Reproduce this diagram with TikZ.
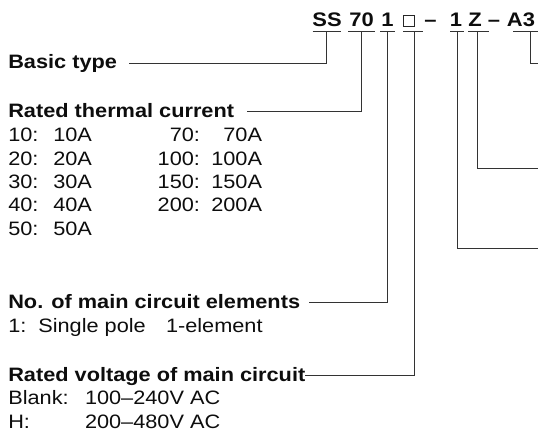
\documentclass[tikz,border=0pt]{standalone}
\usepackage{fontspec}
\setmainfont{Liberation Sans}[FakeStretch=1.12]
\begin{document}
\begin{tikzpicture}[x=1pt,y=-1pt,
  every node/.style={inner sep=0pt,outer sep=0pt,text=black!95},
  txt/.style={anchor=base west,font=\fontsize{19.4}{23}\selectfont},
  txtr/.style={anchor=base east,font=\fontsize{19.4}{23}\selectfont},
  hd/.style={anchor=base west,font=\fontsize{19.4}{23}\selectfont\bfseries},
  ttl/.style={anchor=base,font=\fontsize{19.6}{23}\selectfont\bfseries},
  ln/.style={draw=black!80,line width=1pt}]
\useasboundingbox (0,0) rectangle (538,441);
% title pieces
\node[ttl] (tSS) at (327,26.7) {SS};
\node[ttl] (t70) at (361.5,26.7) {70};
\node[ttl] (t1a) at (387.5,26.7) {1};
\node[draw=black!85,line width=0.9pt,minimum width=11.5pt,minimum height=11pt] (tbox) at (409,21.2) {};
\node[ttl] (td1) at (430.5,26.7) {–};
\node[ttl] (t1b) at (456,26.7) {1};
\node[ttl] (tZ) at (475,26.7) {Z};
\node[ttl] (td2) at (494,26.7) {–};
\node[ttl] (tA3) at (521,26.7) {A3};
% underline coordinates
\coordinate (uSSl) at (312.7,31.7); \coordinate (uSSr) at (341,31.7); \coordinate (uSS) at (326.7,31.7);
\coordinate (u70l) at (348,31.7); \coordinate (u70r) at (375,31.7); \coordinate (u70) at (361,31.7);
\coordinate (u1al) at (380,31.7); \coordinate (u1ar) at (395,31.7); \coordinate (u1a) at (387.5,31.7);
\coordinate (uBl) at (403,31.7); \coordinate (uBr) at (423,31.7); \coordinate (uB) at (414,31.7);
\coordinate (u1bl) at (450,31.7); \coordinate (u1br) at (464,31.7); \coordinate (u1b) at (457.7,31.7);
\coordinate (uZl) at (468,31.7); \coordinate (uZr) at (489,31.7); \coordinate (uZ) at (477.7,31.7);
\coordinate (uAl) at (513,31.7); \coordinate (uAr) at (538,31.7); \coordinate (uA) at (530.7,31.7);
\foreach \u in {SS,70,1a,B,1b,Z,A}{\draw[ln] (u\u l) -- (u\u r);}
% labels
\node[hd] (basic) at (8.3,69) {Basic type};
\coordinate (basicEnd) at (129,64);
\node[hd] (rated) at (8.3,117.7) {Rated thermal current};
\coordinate (ratedEnd) at (246.5,111.7);
\foreach \k/\v/\y in {10/10A/141.7,20/20A/165,30/30A/188.3,40/40A/211.7,50/50A/235}{
  \node[txt] (k\k) at (8.3,\y) {\k:};
  \node[txt] (v\k) at (53.3,\y) {\v};}
\foreach \k/\v/\y in {70/70A/141.7,100/100A/165,150/150A/188.3,200/200A/211.7}{
  \node[txtr] (k\k) at (200,\y) {\k:};
  \node[txtr] (v\k) at (262,\y) {\v};}
\node[hd] (elem) at (8.3,308.3) {No. of main circuit elements};
\coordinate (elemEnd) at (309.3,302.7);
\node[txt] (e1k) at (8.3,332) {1:};
\node[txt] (e1a) at (38.3,332) {Single pole};
\node[txt] (e1b) at (166,332) {1-element};
\node[hd] (volt) at (8.3,381) {Rated voltage of main circuit};
\coordinate (voltEnd) at (305,375);
\node[txt] (bk) at (8.3,404.3) {Blank:};
\node[txt] (bv) at (85,404.3) {100–240V AC};
\node[txt] (hk) at (8.3,428.3) {H:};
\node[txt] (hv) at (85,428.3) {200–480V AC};
% right free ends
\coordinate (rA) at (538,63.3);
\coordinate (rZ) at (538,168.3);
\coordinate (r1b) at (538,248.3);
% connectors
\draw[ln] (uSS) |- (basicEnd);
\draw[ln] (u70) |- (ratedEnd);
\draw[ln] (u1a) |- (elemEnd);
\draw[ln] (uB) |- (voltEnd);
\draw[ln] (uA) |- (rA);
\draw[ln] (uZ) |- (rZ);
\draw[ln] (u1b) |- (r1b);
\end{tikzpicture}
\end{document}
